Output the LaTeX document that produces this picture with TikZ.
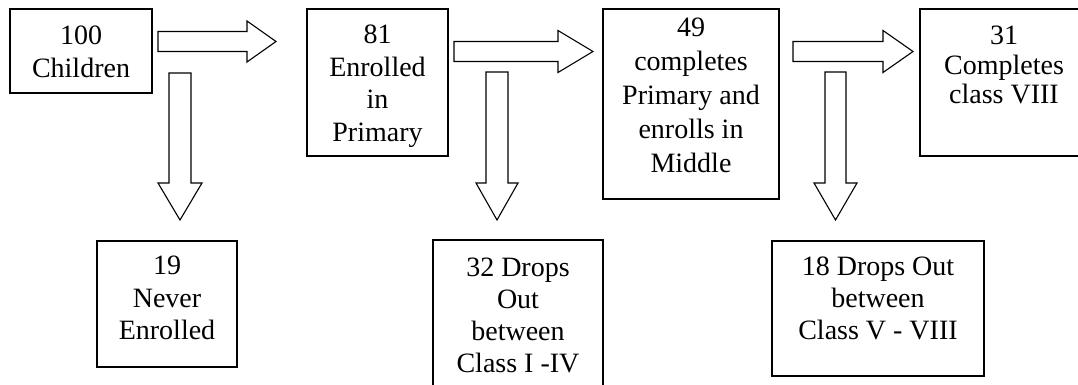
\documentclass[tikz,border=0pt]{standalone}
\usepackage{fontspec}
\setmainfont{Liberation Serif}
\usetikzlibrary{calc}
\newcommand{\boxtxt}[5]{\parbox[c][#2][t]{#1}{\centering\fontsize{28}{#4}\selectfont\vspace*{#3}#5\par}}
\newcommand{\blockR}[5]{\draw[blockarrow] ($(#1)+(0,-#3)$) -- ($(#2)+(-#5,-#3)$) -- ($(#2)+(-#5,-#4)$) -- (#2) -- ($(#2)+(-#5,#4)$) -- ($(#2)+(-#5,#3)$) -- ($(#1)+(0,#3)$) -- cycle;}
\newcommand{\blockD}[5]{\draw[blockarrow] ($(#1)+(-#3,0)$) -- ($(#2)+(-#3,-#5)$) -- ($(#2)+(-#4,-#5)$) -- (#2) -- ($(#2)+(#4,-#5)$) -- ($(#2)+(#3,-#5)$) -- ($(#1)+(#3,0)$) -- cycle;}
\tikzset{
  box/.style={draw, line width=1.1pt, inner sep=0pt, outer sep=0pt},
  blockarrow/.style={draw, line width=1.1pt, fill=white, line join=miter}
}
\begin{document}
\begin{tikzpicture}[x=1pt, y=-1pt]
\clip (0,0) rectangle (1078,385);
\fill[white] (0,0) rectangle (1078,385);
% boxes
\node[box] (b1) at (81,51) {\boxtxt{142pt}{84pt}{17pt}{32.5pt}{100\\Children}};
\node[box] (b2) at (377.5,82.5) {\boxtxt{141pt}{147pt}{16pt}{32.5pt}{81\\Enrolled\\in\\Primary}};
\node[box] (b3) at (691,104) {\boxtxt{176pt}{190pt}{9pt}{34pt}{49\\completes\\Primary and\\enrolls in\\Middle}};
\node[box] (b4) at (1004,82.5) {\boxtxt{168pt}{147pt}{17pt}{29.5pt}{31\\Completes\\class VIII}};
\node[box] (b5) at (167,304) {\boxtxt{140pt}{126pt}{15pt}{32.5pt}{19\\Never\\Enrolled}};
\node[box] (b6) at (518,320) {\boxtxt{170pt}{160pt}{18pt}{32pt}{32 Drops\\Out\\between\\Class I -IV}};
\node[box] (b7) at (878,308.5) {\boxtxt{212pt}{135pt}{16pt}{32pt}{18 Drops Out\\between\\Class V - VIII}};
% arrow end points
\coordinate (r1s) at (158,41.5);  \coordinate (r1e) at (276,41.5);
\coordinate (r2s) at (454,51.5);  \coordinate (r2e) at (593,51.5);
\coordinate (r3s) at (793,51.5);  \coordinate (r3e) at (913,51.5);
\coordinate (d1s) at (180,73);    \coordinate (d1e) at (180,220);
\coordinate (d2s) at (497,72);    \coordinate (d2e) at (497,220);
\coordinate (d3s) at (835.5,72);  \coordinate (d3e) at (835.5,220);
\blockR{r1s}{r1e}{10}{20.5}{29}
\blockR{r2s}{r2e}{10}{21}{35}
\blockR{r3s}{r3e}{10}{21}{30}
\blockD{d1s}{d1e}{11}{22}{37}
\blockD{d2s}{d2e}{11}{21}{37}
\blockD{d3s}{d3e}{10.5}{21.5}{37}
\end{tikzpicture}
\end{document}
